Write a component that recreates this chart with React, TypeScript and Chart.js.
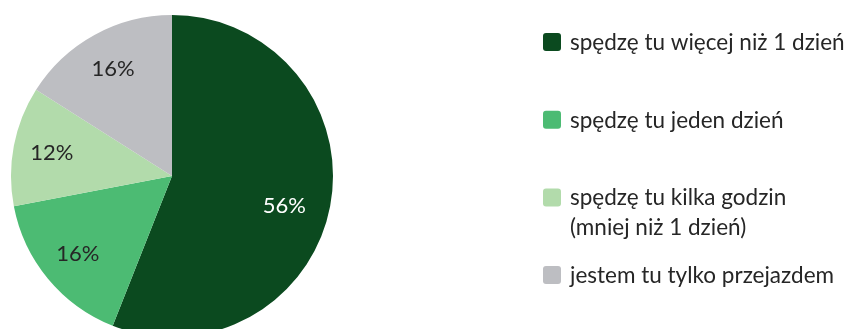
import React, { useEffect, useRef } from "react";
import { Chart, registerables } from "chart.js";

Chart.register(...registerables);

const categories = [
  "spędzę tu więcej niż 1 dzień",
  "spędzę tu jeden dzień",
  "spędzę tu kilka godzin\n(mniej niż 1 dzień)",
  "jestem tu tylko przejazdem",
];
const shares = [56, 16, 12, 16];
const sliceColors = ["#0b4a1f", "#4cbb73", "#b2dbab", "#bdbec2"];
const labelColors = ["#ffffff", "#262626", "#262626", "#262626"];

const FONT = "Lato, 'Open Sans', sans-serif";

const sliceLabels = {
  id: "sliceLabels",
  afterDatasetsDraw(chart: any) {
    const ctx = chart.ctx;
    const meta = chart.getDatasetMeta(0);
    ctx.save();
    ctx.font = `22px ${FONT}`;
    ctx.textAlign = "center";
    ctx.textBaseline = "middle";
    meta.data.forEach((arc: any, i: number) => {
      const p = arc.getProps(["x", "y", "startAngle", "endAngle", "outerRadius"], true);
      const mid = (p.startAngle + p.endAngle) / 2;
      const f = shares[i] > 40 ? 0.71 : 0.76;
      const x = p.x + Math.cos(mid) * p.outerRadius * f;
      const y = p.y + Math.sin(mid) * p.outerRadius * f + (shares[i] > 40 ? 8 : 0);
      ctx.fillStyle = labelColors[i];
      ctx.fillText(`${shares[i]}%`, x, y);
    });
    ctx.restore();
  },
};

const sideLegend = {
  id: "sideLegend",
  afterDraw(chart: any) {
    const ctx = chart.ctx;
    const labels: string[] = chart.data.labels;
    const colors: string[] = chart.data.datasets[0].backgroundColor;
    const x0 = 543;
    const y0 = 42;
    const step = 77.7;
    const box = 18;
    ctx.save();
    ctx.font = `22.5px ${FONT}`;
    ctx.textAlign = "left";
    ctx.textBaseline = "alphabetic";
    labels.forEach((lab, i) => {
      const cy = y0 + i * step;
      ctx.fillStyle = colors[i];
      ctx.beginPath();
      (ctx as any).roundRect(x0, cy - box / 2, box, box, 3);
      ctx.fill();
      ctx.fillStyle = "#262626";
      lab.split("\n").forEach((line, j) => {
        ctx.fillText(line, x0 + 27, cy + 8 + j * 30);
      });
    });
    ctx.restore();
  },
};

export default function App() {
  const ref = useRef<HTMLCanvasElement>(null);
  useEffect(() => {
    if (!ref.current) return;
    const chart = new Chart(ref.current, {
      type: "pie",
      data: {
        labels: categories,
        datasets: [
          {
            data: shares,
            backgroundColor: sliceColors,
            borderWidth: 0,
          },
        ],
      },
      options: {
        animation: false,
        responsive: false,
        radius: 161,
        layout: { padding: { left: 0, right: 510, top: 23, bottom: 0 } },
        plugins: {
          legend: { display: false },
          tooltip: { enabled: false },
        },
      } as any,
      plugins: [sliceLabels, sideLegend],
    });
    return () => chart.destroy();
  }, []);
  return (
    <div style={{ position: "fixed", left: 0, top: 0, width: 854, height: 329, background: "#fff" }}>
      <canvas ref={ref} width={854} height={329} style={{ width: 854, height: 329 }} />
    </div>
  );
}
